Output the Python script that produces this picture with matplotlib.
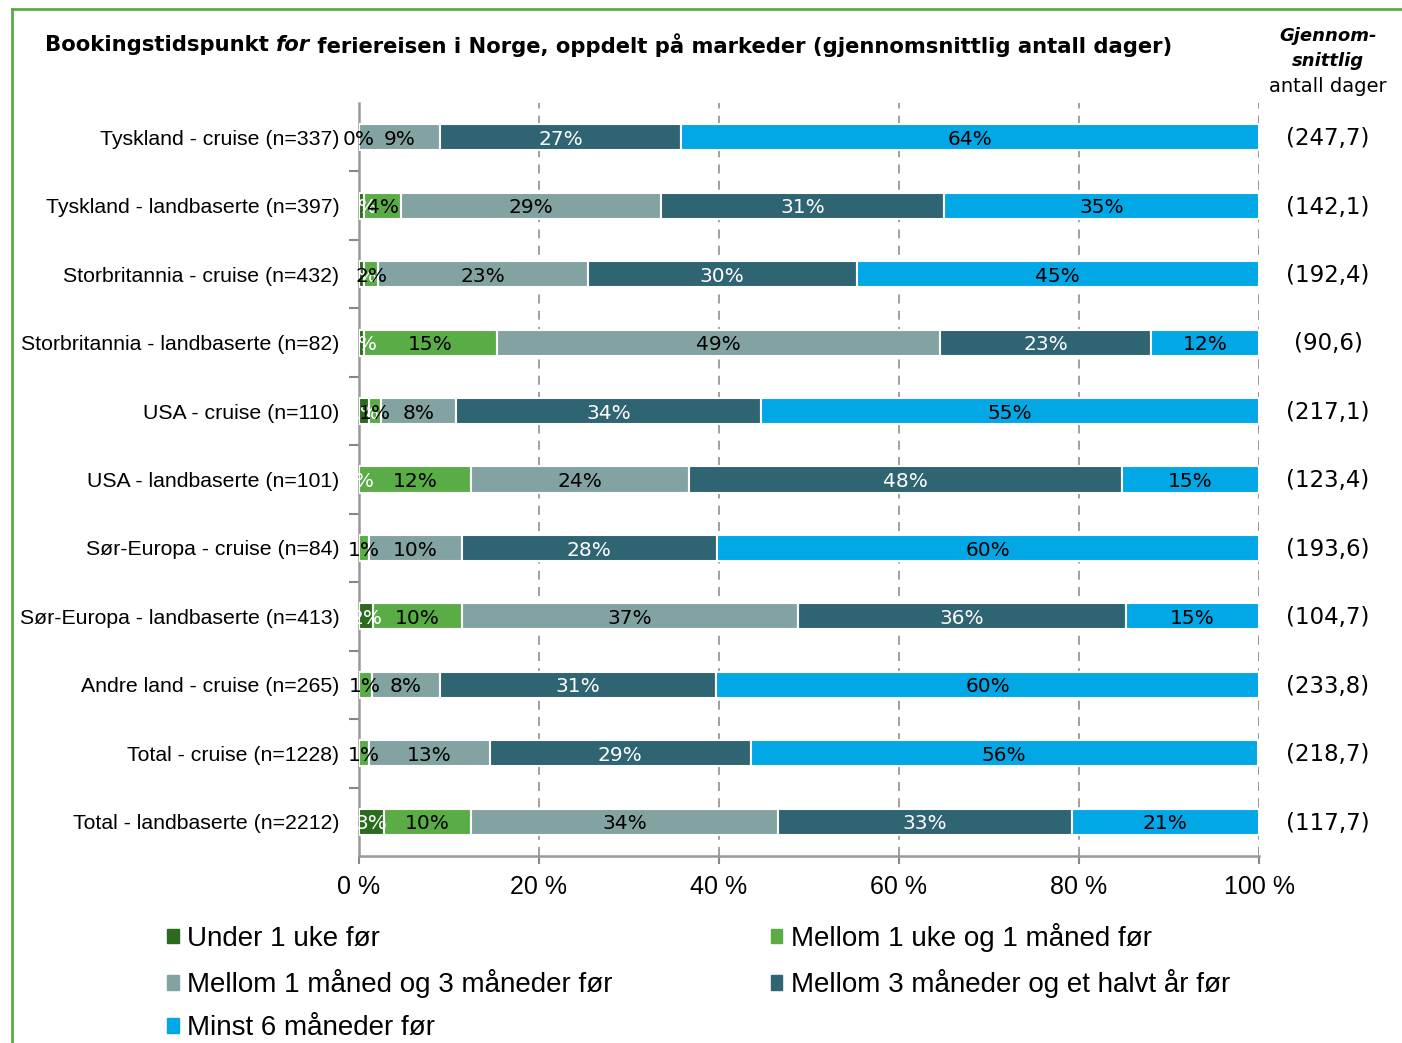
import matplotlib
matplotlib.use('Agg')
import matplotlib.pyplot as plt
import numpy as np
from matplotlib.patches import Patch
from matplotlib.lines import Line2D
import matplotlib.transforms as mtransforms

# data (share of respondents, %)
markets = ['Tyskland - cruise (n=337)', 'Tyskland - landbaserte (n=397)',
           'Storbritannia - cruise (n=432)', 'Storbritannia - landbaserte (n=82)',
           'USA - cruise (n=110)', 'USA - landbaserte (n=101)',
           'Sør-Europa - cruise (n=84)', 'Sør-Europa - landbaserte (n=413)',
           'Andre land - cruise (n=265)', 'Total - cruise (n=1228)',
           'Total - landbaserte (n=2212)']
# None = zero without label
under_1_uke = [None, 0.6, 0.6, 0.6, 1.1, 0, None, 1.6, None, None, 2.8]
mellom_1uke_1mnd = [0, 4.1, 1.5, 14.7, 1.3, 12.4, 1.1, 9.8, 1.4, 1.1, 9.6]
mellom_1_3mnd = [9.0, 28.9, 23.3, 49.3, 8.4, 24.3, 10.3, 37.4, 7.6, 13.4, 34.2]
mellom_3_6mnd = [26.8, 31.4, 29.9, 23.4, 33.9, 48.1, 28.4, 36.4, 30.7, 29.0, 32.6]
minst_6mnd = [64.2, 35.0, 44.7, 12.0, 55.3, 15.2, 60.2, 14.8, 60.3, 56.4, 20.8]
snitt_dager = ['247,7', '142,1', '192,4', '90,6', '217,1', '123,4',
               '193,6', '104,7', '233,8', '218,7', '117,7']

serie_navn = ['Under 1 uke før', 'Mellom 1 uke og 1 måned før',
              'Mellom 1 måned og 3 måneder før', 'Mellom 3 måneder og et halvt år før',
              'Minst 6 måneder før']
farger = ['#2c6b1d', '#5aad46', '#83a3a3', '#2f6472', '#02a7e6']
tekstfarger = ['white', 'black', 'black', 'white', 'black']
serier = [under_1_uke, mellom_1uke_1mnd, mellom_1_3mnd, mellom_3_6mnd, minst_6mnd]

W, H = 1402, 1043
fig = plt.figure(figsize=(W / 100, H / 100), dpi=100)
ax = fig.add_axes([359 / W, 1 - 856 / H, 900 / W, 753 / H])

y = np.arange(len(markets))
left = np.zeros(len(markets))
for vals, col, tcol in zip(serier, farger, tekstfarger):
    w = np.array([0 if v is None else v for v in vals])
    ax.barh(y, w, left=left, height=0.38, color=col, edgecolor='white',
            linewidth=1.5, zorder=3)
    for i, v in enumerate(vals):
        if v is None:
            continue
        ax.text(left[i] + v / 2, y[i] + 0.03, f"{int(v + 0.5)}%", ha='center', va='center',
                fontsize=14.5, color=tcol, family='DejaVu Sans', zorder=4)
    left += w

ax.set_xlim(0, 100)
ax.set_ylim(len(markets) - 0.5, -0.5)
ax.set_xticks(np.arange(0, 101, 20))
ax.set_xticklabels([f"{t} %" for t in range(0, 101, 20)], fontsize=18, family='Liberation Sans')
ax.set_yticks(y)
ax.set_yticklabels(markets, fontsize=15.3, family='Liberation Sans')
ax.set_yticks(np.arange(0.5, len(markets) - 1, 1), minor=True)
ax.tick_params(axis='y', which='major', length=0, pad=14)
ax.tick_params(axis='y', which='minor', length=7, color='#888888', width=1.5)
ax.tick_params(axis='x', length=6, color='#888888', width=1.5, pad=8)
for s in ['top', 'right']:
    ax.spines[s].set_visible(False)
for s in ['left', 'bottom']:
    ax.spines[s].set_color('#999999')
    ax.spines[s].set_linewidth(1.8)
ax.xaxis.grid(True, color='#999999', linestyle=(0, (5, 4)), linewidth=1.3, zorder=0)
ax.set_axisbelow(True)
ax.axvline(100, color='#999999', linestyle=(0, (5, 4)), linewidth=1.3, zorder=0)

# right-hand column: average number of days
trans = mtransforms.blended_transform_factory(fig.transFigure, ax.transData)
for i, d in enumerate(snitt_dager):
    fig.text(1328 / W, y[i] + 0.02, f"({d})", transform=trans, ha='center', va='center',
             fontsize=16.5, family='DejaVu Sans')
fig.text(1328 / W, 1 - 36 / H, 'Gjennom-', ha='center', va='center', fontsize=13,
         style='italic', weight='bold', family='DejaVu Sans')
fig.text(1328 / W, 1 - 61 / H, 'snittlig', ha='center', va='center', fontsize=13,
         style='italic', weight='bold', family='DejaVu Sans')
fig.text(1328 / W, 1 - 87 / H, 'antall dager', ha='center', va='center', fontsize=14,
         family='DejaVu Sans')

# title with italic "for"
fig.canvas.draw()
r = fig.canvas.get_renderer()
tx, ty = 45 / W, 1 - 45 / H
parts = [('Bookingstidspunkt ', 'normal'), ('for', 'italic'),
         (' feriereisen i Norge, oppdelt på markeder (gjennomsnittlig antall dager)', 'normal')]
for txt, st in parts:
    t = fig.text(tx, ty, txt, ha='left', va='center', fontsize=15.2, style=st,
                 family='DejaVu Sans', weight='bold')
    bb = t.get_window_extent(renderer=r)
    tx += bb.width / W

# legend
handles = [Patch(color=c) for c in farger]
order = [0, 2, 4, 1, 3]
fig.legend([handles[k] for k in order], [serie_navn[k] for k in order],
           loc='upper left', bbox_to_anchor=(167 / W, 1 - 923 / H), ncol=2,
           frameon=False, prop={'family': 'Liberation Sans', 'size': 20},
           handlelength=0.42, handleheight=0.42, handletextpad=0.3,
           labelspacing=0.62, columnspacing=5.7, borderpad=0, borderaxespad=0)

# green frame
gr = '#5aad46'
fig.add_artist(Line2D([12 / W, 12 / W], [0, 1 - 9 / H], transform=fig.transFigure, color=gr, lw=2))
fig.add_artist(Line2D([12 / W, 1], [1 - 9 / H, 1 - 9 / H], transform=fig.transFigure, color=gr, lw=2))

fig.savefig('out.png', dpi=100, facecolor='white')
